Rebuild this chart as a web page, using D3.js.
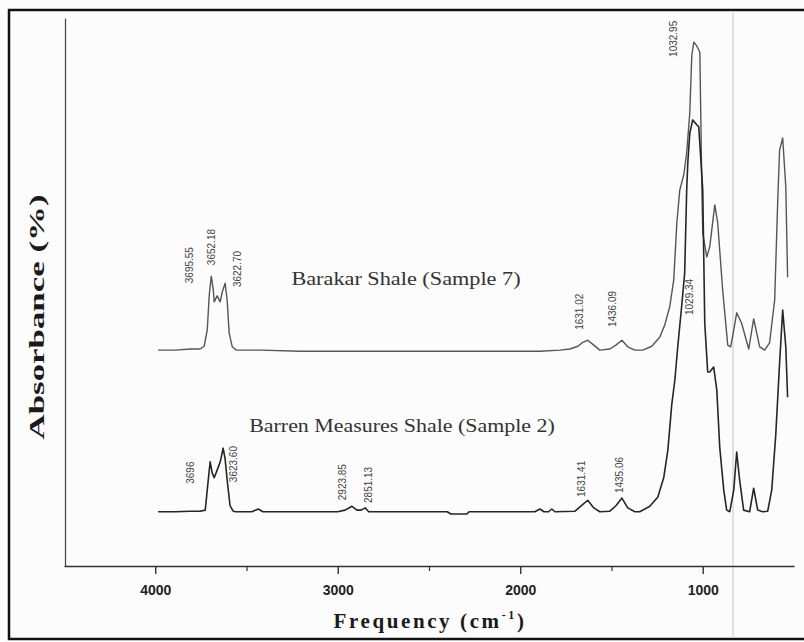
<!DOCTYPE html>
<html>
<head>
<meta charset="utf-8">
<script src="https://cdn.jsdelivr.net/npm/d3@7"></script>
<style>
  body { margin: 0; background: #ffffff; }
  svg { display: block; }
</style>
</head>
<body>
<div id="ftir-chart"></div>
<script>
// Spectra: [wavenumber cm-1, absorbance %]
const barakar = [
  [3984,39.4],[3890,39.4],[3808,39.6],[3754,39.6],[3732,40.1],[3715,43.1],[3704,49.5],[3693,52.9],
  [3682,50.4],[3677,48.2],[3661,49.3],[3644,48.2],[3633,50.0],[3617,51.6],[3606,48.5],[3595,42.5],
  [3578,40.0],[3557,39.4],[3425,39.4],[3206,39.2],[2987,39.2],[2659,39.2],[2385,39.2],[2111,39.2],
  [1892,39.2],[1783,39.4],[1728,39.6],[1684,40.1],[1662,40.7],[1630,41.2],[1597,40.3],[1564,39.4],
  [1509,39.6],[1476,40.3],[1443,41.2],[1411,40.0],[1372,39.4],[1329,39.4],[1279,40.1],[1235,41.8],
  [1208,44.0],[1181,47.3],[1159,52.2],[1142,62.6],[1126,68.6],[1104,71.4],[1088,75.4],[1071,82.7],
  [1060,93.2],[1049,95.6],[1033,94.9],[1016,93.8],[1011,82.7],[1005,69.2],[1000,60.8],[978,56.4],
  [962,58.2],[934,65.9],[918,62.6],[891,50.4],[863,40.3],[847,40.0],[830,43.1],[814,46.2],
  [787,44.3],[748,39.6],[721,45.1],[688,40.0],[661,39.4],[634,40.7],[606,48.5],[589,66.8],
  [579,75.9],[562,78.1],[545,69.2],[535,52.7]
];

const barren = [
  [3984,9.9],[3890,9.9],[3808,10.0],[3754,10.0],[3726,10.2],[3715,13.9],[3704,17.5],[3699,19.0],
  [3688,17.0],[3677,16.1],[3661,17.5],[3644,19.0],[3628,21.5],[3617,19.5],[3606,15.7],[3600,13.9],
  [3590,11.0],[3573,10.0],[3557,9.9],[3470,9.9],[3436,10.4],[3410,9.9],[3206,9.9],[3000,9.9],
  [2960,10.2],[2922,10.9],[2895,10.2],[2872,10.2],[2850,10.6],[2830,9.9],[2659,9.9],[2400,9.9],
  [2380,9.5],[2292,9.5],[2280,9.9],[2111,9.9],[1920,9.9],[1892,10.4],[1870,9.9],[1845,9.9],
  [1827,10.4],[1810,9.9],[1700,10.0],[1665,11.0],[1630,12.0],[1597,10.6],[1564,9.9],[1509,10.0],
  [1476,11.0],[1443,12.4],[1411,10.6],[1372,9.9],[1345,9.9],[1290,10.9],[1246,12.6],[1214,16.1],
  [1191,21.2],[1170,29.4],[1153,33.9],[1137,40.0],[1115,47.6],[1099,53.5],[1088,68.6],[1082,73.5],
  [1071,79.0],[1055,81.4],[1033,80.5],[1022,80.2],[1000,68.6],[989,44.3],[973,35.4],[962,35.4],
  [940,36.3],[923,32.1],[907,21.7],[885,13.9],[869,10.2],[852,9.9],[830,13.9],[814,20.8],
  [798,15.7],[776,10.2],[743,9.9],[721,14.2],[699,10.2],[672,9.9],[644,10.0],[622,13.9],
  [600,23.9],[579,37.0],[562,46.7],[545,40.0],[535,30.8]
];

// Peak labels: [text, wavenumber, absorbance at the foot of the label]
const barakarPeaks = [
  ["3695.55",3814,51.6],["3652.18",3693,54.9],["3622.70",3551,50.9],
  ["1631.02",1673,43.1],["1436.09",1493,43.6],["1032.95",1159,92.9],["1029.34",1071,45.8]
];
const barrenPeaks = [
  ["3696",3808,15.0],["3623.60",3573,15.3],["2923.85",2976,12.0],["2851.13",2834,11.5],
  ["1631.41",1662,12.6],["1435.06",1454,13.3]
];

// Series titles: [text, wavenumber of centre, absorbance of baseline]
const seriesTitles = [
  ["Barakar Shale (Sample 7)", 2626, 51.3],
  ["Barren Measures Shale (Sample 2)", 2648, 24.5]
];

const majorTicks = [4000, 3000, 2000, 1000];
const minorTicks = [3500, 2500, 1500];

const W = 804, H = 642;

const svg = d3.select("#ftir-chart")
  .append("svg")
  .attr("width", W)
  .attr("height", H);

// page / scan background
svg.append("rect").attr("width", W).attr("height", H).attr("fill", "#fcfcfc");

// outer frame of the figure
svg.append("rect")
  .attr("x", 9).attr("y", 10)
  .attr("width", 800).attr("height", 629)
  .attr("fill", "none")
  .attr("stroke", "#111")
  .attr("stroke-width", 2.5);

// faint scan line on the right
svg.append("line")
  .attr("x1", 733).attr("x2", 733).attr("y1", 11).attr("y2", 638)
  .attr("stroke", "#d8d8d8").attr("stroke-width", 1.5);

// Scales
const xScale = d3.scaleLinear().domain([4500, 500]).range([64, 794]);
const yScale = d3.scaleLinear().domain([0, 100]).range([566, 18]);

// X axis
const xAxis = svg.append("g").attr("transform", "translate(0,566)");
xAxis.call(d3.axisBottom(xScale).tickValues(majorTicks).tickSize(8).tickSizeOuter(0).tickFormat(d3.format("d")));
xAxis.select(".domain").attr("stroke", "#333").attr("stroke-width", 1.6);
xAxis.selectAll(".tick line").attr("stroke", "#333").attr("stroke-width", 1.4);
xAxis.selectAll(".tick text")
  .attr("y", 19)
  .attr("fill", "#222")
  .style("font-family", "'Liberation Sans', Arial, sans-serif")
  .style("font-size", "14px")
  .style("font-weight", "bold");

const xMinor = svg.append("g").attr("transform", "translate(0,566)");
xMinor.call(d3.axisBottom(xScale).tickValues(minorTicks).tickSize(5).tickFormat(""));
xMinor.select(".domain").remove();
xMinor.selectAll(".tick line").attr("stroke", "#333").attr("stroke-width", 1.2);

// Y axis (line only)
const yAxis = svg.append("g").attr("transform", "translate(65,0)");
yAxis.call(d3.axisLeft(yScale).tickValues([]).tickSizeOuter(0));
yAxis.select(".domain").attr("stroke", "#444").attr("stroke-width", 1.2);

// Axis titles
svg.append("text")
  .attr("transform", "translate(44,317) rotate(-90)")
  .attr("text-anchor", "middle")
  .attr("textLength", 245)
  .attr("lengthAdjust", "spacingAndGlyphs")
  .style("font-family", "'Liberation Serif', 'Times New Roman', serif")
  .style("font-size", "22px")
  .style("font-weight", "bold")
  .attr("fill", "#1a1a1a")
  .text("Absorbance (%)");

const xTitle = svg.append("text")
  .attr("x", 430).attr("y", 628)
  .attr("text-anchor", "middle")
  .style("font-family", "'Liberation Serif', 'Times New Roman', serif")
  .style("font-size", "21px")
  .style("font-weight", "bold")
  .style("letter-spacing", "2.6px")
  .attr("fill", "#1a1a1a");
xTitle.append("tspan").text("Frequency (cm");
xTitle.append("tspan").attr("dy", -9).style("font-size", "12px").text("-1");
xTitle.append("tspan").attr("dy", 9).text(")");

// Line generator
const line = d3.line()
  .x(d => xScale(d[0]))
  .y(d => yScale(d[1]));

svg.append("path")
  .datum(barakar)
  .attr("fill", "none")
  .attr("stroke", "#555")
  .attr("stroke-width", 1.4)
  .attr("stroke-linejoin", "round")
  .attr("d", line);

svg.append("path")
  .datum(barren)
  .attr("fill", "none")
  .attr("stroke", "#262626")
  .attr("stroke-width", 1.6)
  .attr("stroke-linejoin", "round")
  .attr("d", line);

// Series titles
svg.selectAll(".series-title")
  .data(seriesTitles)
  .enter()
  .append("text")
  .attr("class", "series-title")
  .attr("x", d => xScale(d[1]))
  .attr("y", d => yScale(d[2]))
  .attr("text-anchor", "middle")
  .attr("textLength", d => d[0].length * 9.55)
  .attr("lengthAdjust", "spacingAndGlyphs")
  .style("font-family", "'Liberation Serif', 'Times New Roman', serif")
  .style("font-size", "19px")
  .attr("fill", "#333")
  .text(d => d[0]);

// Peak labels (rotated, reading upward)
function peakLabels(rows, cls) {
  svg.selectAll("." + cls)
    .data(rows)
    .enter()
    .append("text")
    .attr("class", cls)
    .attr("transform", d => `translate(${xScale(d[1])},${yScale(d[2])}) rotate(-90)`)
    .attr("dy", "0.35em")
    .style("font-family", "'Liberation Sans', Arial, sans-serif")
    .style("font-size", "10px")
    .attr("fill", "#444")
    .text(d => d[0]);
}
peakLabels(barakarPeaks, "peak-top");
peakLabels(barrenPeaks, "peak-bottom");
</script>
</body>
</html>
